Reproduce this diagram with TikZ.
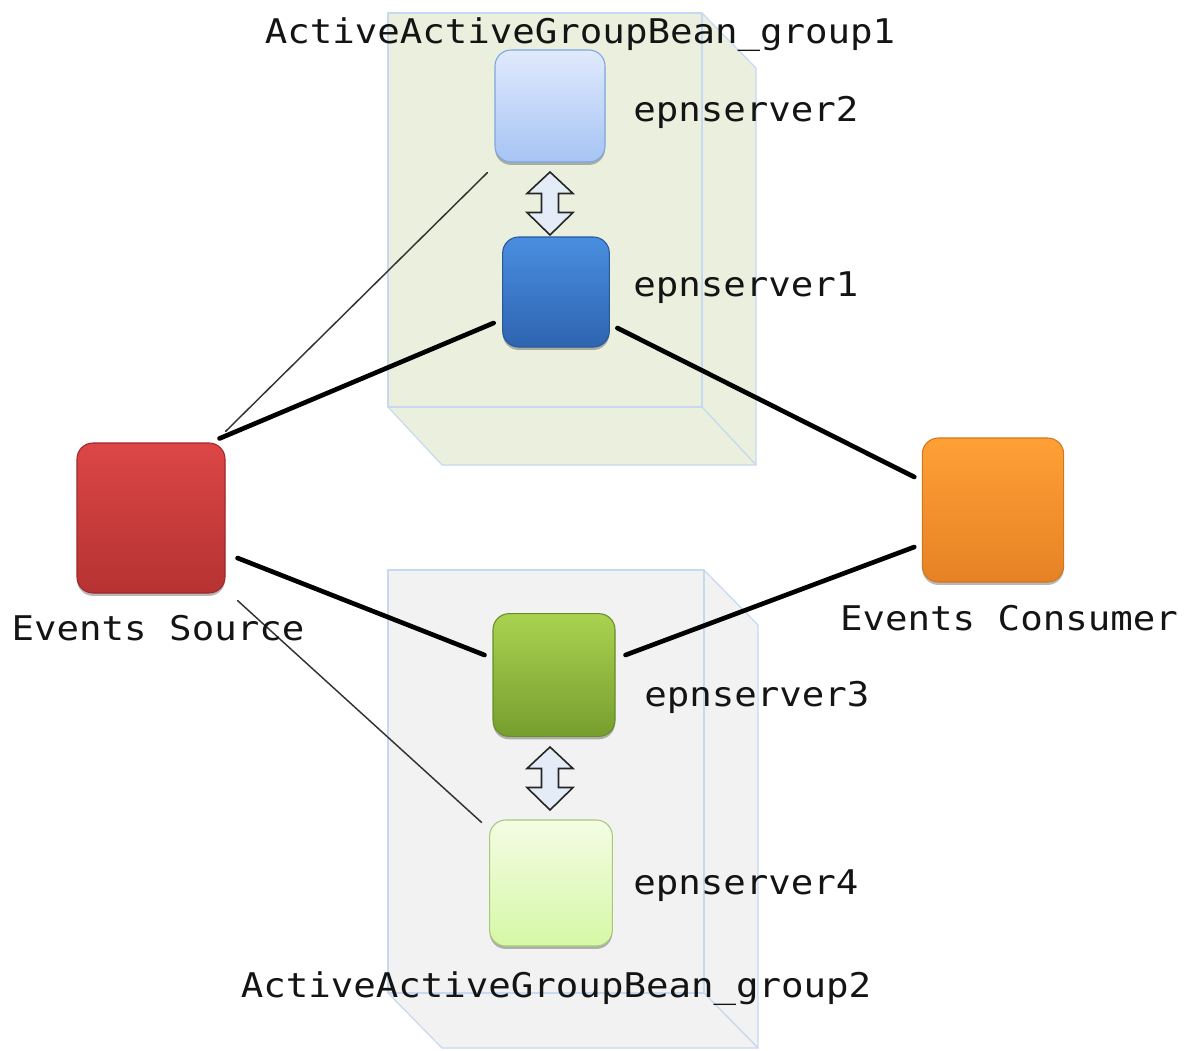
\documentclass[tikz,border=0pt]{standalone}
\usepackage{fontspec}
\newfontfamily\lblfont[FakeStretch=1.1]{DejaVu Sans Mono}
\usetikzlibrary{shadows,calc}
\definecolor{boxedge}{HTML}{C6D9F0}
\definecolor{greenbox}{HTML}{EBF0DE}
\definecolor{greybox}{HTML}{F2F2F2}
\definecolor{txt}{HTML}{141414}
\definecolor{arrfill}{HTML}{E4ECF7}
\begin{document}
\begin{tikzpicture}[x=0.75pt,y=-0.75pt,
  srv/.style={rounded corners=12pt, inner sep=0pt, line width=0.8pt,
    drop shadow={shadow xshift=0pt, shadow yshift=-2.2pt, opacity=0.28, fill=black}},
  lbl/.style={inner sep=0pt, text=txt, font=\lblfont\fontsize{25.5pt}{30pt}\selectfont},
  thickline/.style={line width=3.5pt, black, line cap=round},
  thinline/.style={line width=1.1pt, black!80, line cap=round},
  boxline/.style={draw=boxedge, line width=0.9pt, line join=round},
  updownarrow/.pic={
    \draw[fill=arrfill, draw=black!85, line width=1.2pt, line join=miter]
      (0,-31.5) -- (23,-10) -- (8.5,-10) -- (8.5,9) -- (23,9) -- (0,31.5)
      -- (-23,9) -- (-8.5,9) -- (-8.5,-10) -- (-23,-10) -- cycle;
  }]
\useasboundingbox (0,0) rectangle (1187,1050);
\clip (0,0) rectangle (1187,1050);

% upper group box
\path[boxline, fill=greenbox] (702,13) -- (756,68) -- (756,465) -- (702,407) -- cycle;
\path[boxline, fill=greenbox] (388,407) -- (702,407) -- (756,465) -- (442,465) -- cycle;
\path[boxline, fill=greenbox] (388,13) rectangle (702,407);

% lower group box
\path[boxline, fill=greybox] (704,570) -- (758,625) -- (758,1048) -- (704,993) -- cycle;
\path[boxline, fill=greybox] (388,993) -- (704,993) -- (758,1048) -- (442,1048) -- cycle;
\path[boxline, fill=greybox] (388,570) rectangle (704,993);

% server nodes
\node[srv, minimum width=82.5pt, minimum height=84pt, draw={rgb,255:red,126;green,166;blue,222},
  top color={rgb,255:red,224;green,234;blue,253}, bottom color={rgb,255:red,166;green,196;blue,244}] (ep2) at (550,106) {};
\node[srv, minimum width=80pt, minimum height=82.5pt, draw={rgb,255:red,40;green,88;blue,156},
  top color={rgb,255:red,74;green,142;blue,224}, bottom color={rgb,255:red,46;green,100;blue,176}] (ep1) at (556,292) {};
\node[srv, minimum width=111pt, minimum height=112.5pt, draw={rgb,255:red,160;green,40;blue,40},
  top color={rgb,255:red,220;green,70;blue,70}, bottom color={rgb,255:red,182;green,50;blue,50}] (src) at (151,518) {};
\node[srv, minimum width=106pt, minimum height=108pt, draw={rgb,255:red,210;green,118;blue,30},
  top color={rgb,255:red,255;green,160;blue,54}, bottom color={rgb,255:red,230;green,130;blue,36}] (con) at (993,510) {};
\node[srv, minimum width=91.5pt, minimum height=92pt, draw={rgb,255:red,106;green,142;blue,40},
  top color={rgb,255:red,170;green,210;blue,80}, bottom color={rgb,255:red,118;green,158;blue,46}] (ep3) at (554,675) {};
\node[srv, minimum width=92pt, minimum height=94.5pt, draw={rgb,255:red,166;green,202;blue,120},
  top color={rgb,255:red,244;green,252;blue,228}, bottom color={rgb,255:red,214;green,248;blue,166}] (ep4) at (551,883) {};

% connectors
\draw[thinline] ($(src.north east)+(0,-11)$) -- ($(ep2.south west)+(-7,10)$);
\draw[thickline] ($(src.north east)+(-6,-4)$) -- ($(ep1.west)+(-8.5,31)$);
\draw[thickline] ($(ep1.east)+(7.5,36)$) -- ($(con.west)+(-7.5,-33)$);
\draw[thickline] ($(src.east)+(12,40)$) -- ($(ep3.west)+(-8,-20)$);
\draw[thickline] ($(ep3.east)+(10,-20)$) -- ($(con.west)+(-7.5,37)$);
\draw[thinline] ($(src.south east)+(12,7)$) -- ($(ep4.north west)+(-7.5,3)$);

% replication arrows
\pic at (550,203.5) {updownarrow};
\pic at (550,778.5) {updownarrow};

% labels
\node[lbl, anchor=base] (g1) at (580,43) {ActiveActiveGroupBean\_group1};
\node[lbl, anchor=base west] (l2) at (633,121) {epnserver2};
\node[lbl, anchor=base west] (l1) at (633,296) {epnserver1};
\node[lbl, anchor=base] (ls) at (158,640) {Events Source};
\node[lbl, anchor=base] (lc) at (1009,630) {Events Consumer};
\node[lbl, anchor=base west] (l3) at (644,706) {epnserver3};
\node[lbl, anchor=base west] (l4) at (633,894) {epnserver4};
\node[lbl, anchor=base] (g2) at (556,997) {ActiveActiveGroupBean\_group2};
\end{tikzpicture}
\end{document}
